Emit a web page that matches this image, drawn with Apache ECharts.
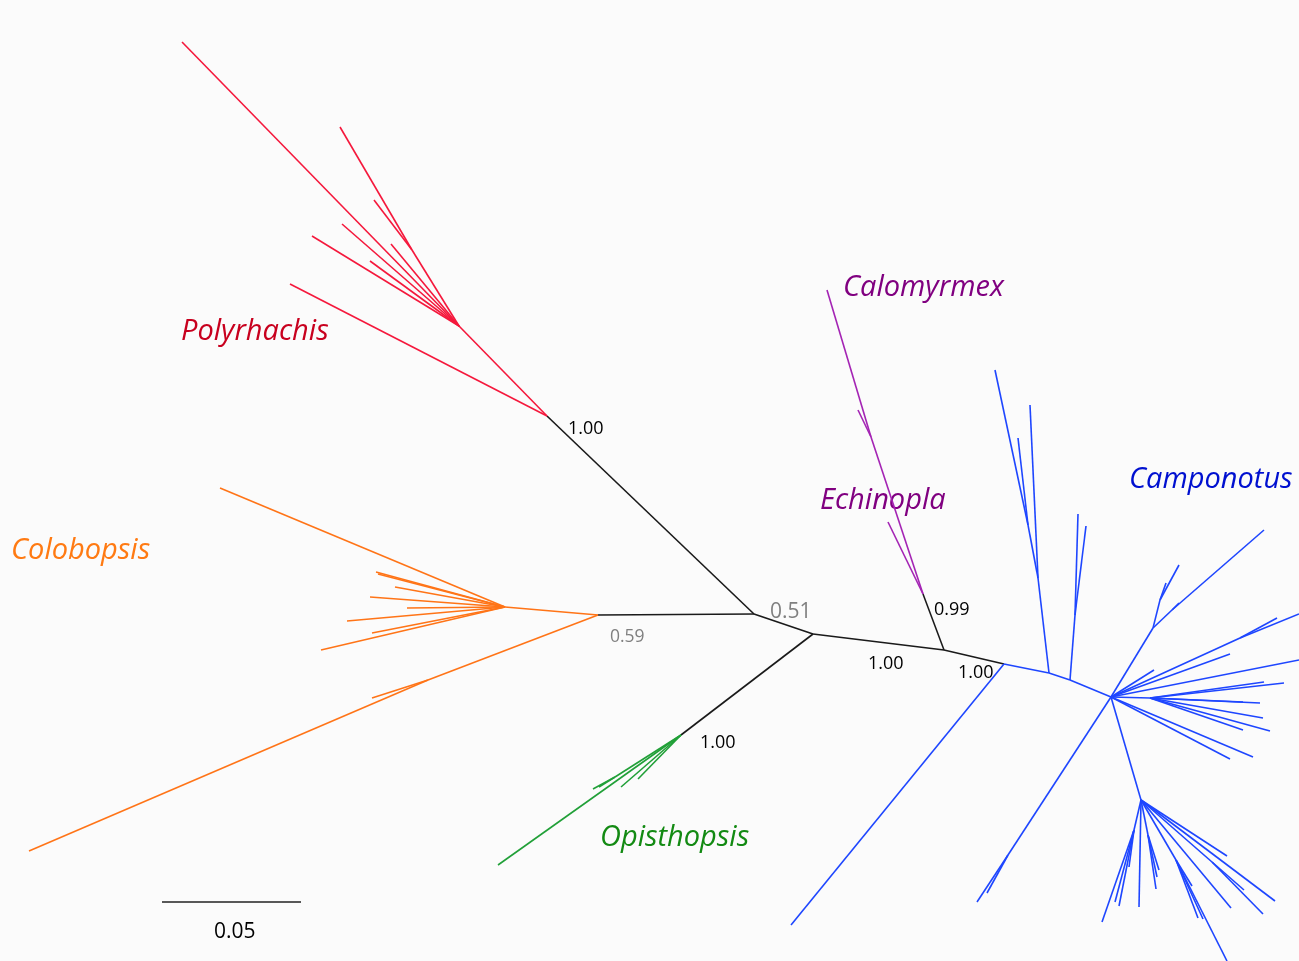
<!DOCTYPE html>
<html><head><meta charset="utf-8">
<script src="https://cdn.jsdelivr.net/npm/echarts@6/dist/echarts.min.js"></script>
<style>html,body{margin:0;padding:0;background:#fbfbfb}#c{width:1299px;height:961px}</style>
</head><body><div id="c"></div>
<script>
// Tree branches: [x1, y1, x2, y2] in plot units
const backboneEdges = [
  [754,614,547,416],[754,614,598,615],[754,614,813,634],
  [813,634,681,735],[813,634,944,650],[944,650,923,594],[944,650,1004,664]
];
const polyrhachisEdges = [
  [547,416,459,326],[547,416,290,284],[459,326,182,42],
  [459,326,412,250],[412,250,340,127],[412,250,374,200],
  [459,326,312,236],[459,326,342,224],[459,326,391,244],[459,326,370,261]
];
const colobopsisEdges = [
  [598,615,505,607],[505,607,220,488],[505,607,376,572],[505,607,378,574],
  [505,607,395,587],[505,607,370,597],[505,607,407,608],[505,607,347,621],
  [505,607,372,633],[505,607,321,650],
  [598,615,428,680],[428,680,29,851],[428,680,372,698]
];
const opisthopsisEdges = [
  [681,735,498,865],[681,735,621,787],[681,735,638,779],
  [681,735,615,777],[615,777,593,789],[615,777,599,787]
];
const echinoplaEdges = [
  [923,594,871,437],[871,437,827,290],[871,437,858,410],[923,594,888,522]
];
const camponotusEdges = [
  [1004,664,791,925],[1004,664,1049,673],[1049,673,1070,680],[1070,680,1111,697],
  [1049,673,1038,578],[1038,578,1030,405],[1038,578,1028,525],[1028,525,995,370],[1028,525,1018,438],
  [1070,680,1075,615],[1075,615,1078,514],[1075,615,1086,526],
  [1111,697,1153,628],[1153,628,1172,610],[1172,610,1264,530],[1172,610,1179,603],
  [1153,628,1160,600],[1160,600,1179,565],[1160,600,1166,583],
  [1111,697,1154,670],[1111,697,1240,638],[1240,638,1277,618],[1240,638,1299,614],
  [1111,697,1230,654],[1111,697,1299,660],
  [1111,697,1150,698],[1150,698,1264,682],[1150,698,1284,683],[1150,698,1243,702],
  [1150,698,1260,703],[1150,698,1263,718],[1150,698,1270,731],[1150,698,1243,730],
  [1111,697,1253,757],[1111,697,1230,759],
  [1111,697,1008,855],[1008,855,977,902],[1008,855,987,893],
  [1111,697,1141,800],
  [1141,800,1134,830],[1134,830,1102,922],[1134,830,1115,902],[1134,830,1119,906],[1134,830,1129,867],
  [1141,800,1139,907],
  [1141,800,1148,835],[1148,835,1159,870],[1148,835,1156,889],[1148,835,1157,877],
  [1141,800,1176,860],[1176,860,1192,886],[1176,860,1198,918],[1176,860,1203,919],[1176,860,1227,961],
  [1141,800,1231,908],
  [1141,800,1212,862],[1212,862,1263,914],[1212,862,1244,890],
  [1141,800,1275,901],[1141,800,1227,856]
];
const cladeNames = ['Polyrhachis','Colobopsis','Opisthopsis','Calomyrmex','Echinopla','Camponotus'];
const supportValues = ['1.00','0.51','0.59','1.00','0.99','1.00','1.00'];
const scaleBarValue = '0.05';

function toLines(arr){ return arr.map(e => ({coords:[[e[0],e[1]],[e[2],e[3]]]})); }
function lineSeries(arr, color){
  return {type:'lines', coordinateSystem:'cartesian2d', polyline:false, silent:true,
    lineStyle:{color:color, width:1.6, opacity:1}, data:toLines(arr), z:2};
}
const font = '"Open Sans", sans-serif';
function txt(x,y,t,color,size,italic,align){
  return {type:'text', left:x, top:y, style:{text:t, fill:color, font:(italic?'italic ':'')+size+'px '+font, textAlign:align||'left'}};
}
const chart = echarts.init(document.getElementById('c'));
chart.setOption({
  backgroundColor:'#fbfbfb',
  animation:false,
  grid:{left:0,right:0,top:0,bottom:0},
  xAxis:{type:'value',min:0,max:1299,show:false},
  yAxis:{type:'value',min:0,max:961,inverse:true,show:false},
  series:[
    lineSeries(backboneEdges,'#1a1a1a'),
    lineSeries(polyrhachisEdges,'#f5183c'),
    lineSeries(colobopsisEdges,'#ff7417'),
    lineSeries(opisthopsisEdges,'#21a038'),
    lineSeries(echinoplaEdges,'#a424b4'),
    lineSeries(camponotusEdges,'#1e46ff')
  ],
  graphic:[
    txt(181,317,cladeNames[0],'#c8001e',29,true),
    txt(11,536,cladeNames[1],'#ff7a12',29,true),
    txt(600,823,cladeNames[2],'#138a13',29,true),
    txt(843,273,cladeNames[3],'#800080',29,true),
    txt(820,486,cladeNames[4],'#800080',29,true),
    txt(1129,465,cladeNames[5],'#0010d0',29,true),
    txt(568,420,supportValues[0],'#000',18,false),
    txt(770,602,supportValues[1],'#808080',21,false),
    txt(610,628,supportValues[2],'#808080',17.5,false),
    txt(700,734,supportValues[3],'#000',18,false),
    txt(934,601,supportValues[4],'#000',18,false),
    txt(868,655,supportValues[5],'#000',18,false),
    txt(958,664,supportValues[6],'#000',18,false),
    {type:'line', shape:{x1:162,y1:902,x2:301,y2:902}, style:{stroke:'#222',lineWidth:1.5}},
    txt(214,922,scaleBarValue,'#000',21,false)
  ]
});
</script></body></html>
